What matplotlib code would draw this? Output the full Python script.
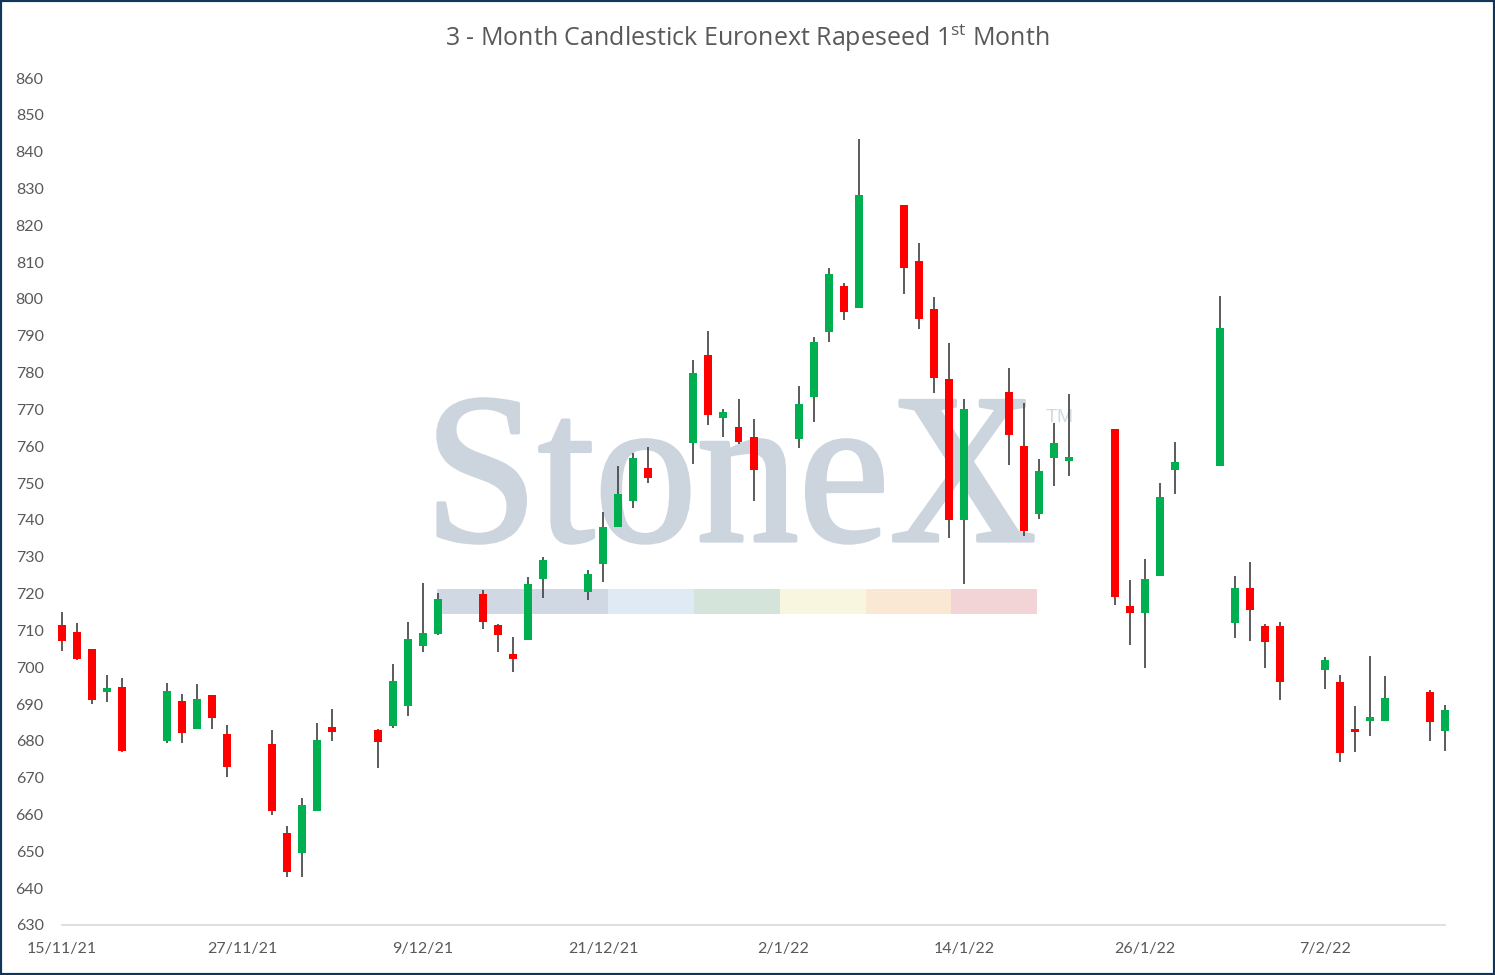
import numpy as np
import pandas as pd
import matplotlib
matplotlib.use("Agg")
import matplotlib.pyplot as plt
import matplotlib.dates as mdates
from matplotlib.patches import Rectangle, PathPatch
from matplotlib.textpath import TextPath
from matplotlib.font_manager import FontProperties
from matplotlib.transforms import Affine2D

plt.rcParams['font.family'] = ['Lato', 'DejaVu Sans']
plt.rcParams['mathtext.fontset'] = 'custom'
plt.rcParams['mathtext.rm'] = 'Open Sans'

# Datos (trading days 15/11/21 - 15/2/22)
dates = pd.bdate_range('2021-11-15', '2022-02-15')
opens = [711.5, 709.5, 705.0, 693.3, 694.5, 680.0, 690.8, 683.3, 692.4, 682.0,
         679.1, 655.0, 649.6, 661.0, 683.8, 683.0, 684.1, 689.5, 705.8, 709.1,
         719.9, 711.5, 703.6, 707.4, 724.0, 720.5, 728.1, 738.1, 745.1, 754.0,
         760.8, 784.9, 767.7, 765.1, 762.4, 761.9, 773.3, 790.9, 803.5, 797.6,
         825.5, 810.3, 797.3, 778.2, 740.0, 774.7, 760.2, 741.7, 756.9, 756.1,
         764.7, 716.6, 714.8, 724.8, 753.6, 754.7, 712.1, 721.5, 711.2, 711.2,
         699.3, 695.9, 683.2, 685.5, 685.5, 693.3, 682.7]
highs = [715.0, 712.0, 705.0, 698.0, 697.0, 695.7, 692.7, 695.4, 692.4, 684.3,
         683.0, 657.0, 664.5, 684.8, 688.6, 683.2, 700.9, 712.3, 723.0, 720.1,
         721.0, 711.8, 708.2, 724.6, 729.9, 726.4, 742.1, 754.6, 758.3, 759.7,
         783.4, 791.3, 770.1, 772.8, 767.4, 776.3, 789.6, 808.4, 804.2, 843.4,
         825.5, 815.2, 800.5, 788.0, 772.9, 781.2, 771.8, 756.5, 766.3, 774.2,
         764.7, 723.7, 729.4, 750.0, 761.1, 800.8, 724.8, 728.6, 711.7, 712.3,
         702.8, 697.9, 689.5, 703.0, 697.6, 693.8, 689.7]
lows = [704.5, 702.0, 690.0, 690.5, 677.0, 679.5, 679.5, 683.3, 683.3, 670.3,
        660.0, 643.0, 643.0, 661.0, 680.0, 672.5, 683.6, 686.8, 704.0, 708.8,
        710.4, 704.0, 698.8, 707.4, 718.9, 718.3, 723.2, 738.1, 743.3, 750.1,
        755.1, 765.9, 762.6, 760.7, 745.2, 759.6, 766.7, 788.4, 794.4, 797.6,
        801.4, 791.9, 774.5, 735.2, 722.7, 755.0, 735.7, 740.3, 749.3, 752.0,
        717.0, 706.1, 699.9, 724.8, 747.1, 754.7, 708.0, 707.2, 699.9, 691.0,
        694.2, 674.3, 677.0, 681.4, 685.5, 680.0, 677.3]
closes = [707.0, 702.3, 691.0, 694.3, 677.3, 693.5, 682.2, 691.4, 686.3, 673.0,
          661.0, 644.5, 662.5, 680.2, 682.5, 679.8, 696.2, 707.7, 709.3, 718.5,
          712.3, 708.8, 702.2, 722.6, 729.1, 725.3, 738.0, 747.0, 756.7, 751.4,
          779.8, 768.6, 769.2, 761.1, 753.6, 771.4, 788.2, 806.7, 796.5, 828.1,
          808.5, 794.6, 778.6, 740.0, 770.0, 763.1, 737.1, 753.3, 760.9, 757.0,
          719.2, 714.8, 723.9, 746.2, 755.7, 792.1, 721.5, 715.6, 706.9, 696.0,
          702.0, 676.8, 682.5, 686.5, 691.6, 685.2, 688.4]
tick_dates = pd.to_datetime(['2021-11-15', '2021-11-27', '2021-12-09', '2021-12-21',
                             '2022-01-02', '2022-01-14', '2022-01-26', '2022-02-07'])

W, H = 1495, 975
fig = plt.figure(figsize=(W / 100, H / 100), dpi=100)
ax = fig.add_axes([61.7 / W, (H - 925) / H, (1445.4 - 61.7) / W, (925 - 78) / H])
ax.patch.set_alpha(0)

x = mdates.date2num(dates.to_pydatetime())
o = np.array(opens)
c = np.array(closes)
colors = np.where(c >= o, '#00b050', '#ff0000')

ax.vlines(x, lows, highs, color='#404040', lw=1.2, zorder=2, clip_on=False)
ax.bar(x, np.abs(c - o), bottom=np.minimum(o, c), width=0.53, color=colors,
       zorder=3, clip_on=False)

ax.set_xlim(x[0], x[-1])
ax.set_ylim(630, 860)
ax.set_yticks(np.arange(630, 861, 10))
ax.set_xticks(mdates.date2num(tick_dates.to_pydatetime()))
ax.set_xticklabels([f"{d.day}/{d.month}/{d:%y}" for d in tick_dates])
ax.tick_params(length=0, labelsize=11.5, labelcolor='#595959')
ax.tick_params(axis='y', pad=13)
ax.tick_params(axis='x', pad=12)
for s in ['top', 'right', 'left']:
    ax.spines[s].set_visible(False)
ax.spines['bottom'].set_color('#d9d9d9')
ax.spines['bottom'].set_linewidth(1.2)

fig.text(747.5 / W, 1 - 38 / H,
         '3 - Month Candlestick Euronext Rapeseed 1$^{\\mathrm{st}}$ Month',
         ha='center', va='center', fontsize=18, color='#595959',
         family=['Open Sans', 'DejaVu Sans'])

# Marca de agua StoneX
tp = TextPath((0, 0), 'StoneX', size=1, prop=FontProperties(family='Liberation Serif'))
bb = tp.get_extents()
x0, x1, ytop, ybot = 438, 1033, 399, 543
tr = (Affine2D().translate(-bb.x0, -bb.y0)
      .scale((x1 - x0) / bb.width / W, (ybot - ytop) / bb.height / H)
      .translate(x0 / W, (H - ybot) / H) + fig.transFigure)
fig.add_artist(PathPatch(tp, transform=tr, facecolor='#ccd4de', edgecolor='#ccd4de',
                         lw=2.5, joinstyle='round', zorder=-1))
fig.text(1046 / W, 1 - 418 / H, 'TM', fontsize=14, color='#d3d9e1', va='center',
         ha='left', family='Liberation Sans', zorder=-1)

bar_edges = [437, 608, 694, 780, 866, 951, 1037]
bar_cols = ['#d0d9e3', '#dfeaf4', '#d5e4da', '#f8f6de', '#fbe8d4', '#f2d4d6']
for i, col in enumerate(bar_cols):
    fig.add_artist(Rectangle((bar_edges[i] / W, (H - 614) / H),
                             (bar_edges[i + 1] - bar_edges[i]) / W, 25 / H,
                             transform=fig.transFigure, facecolor=col,
                             edgecolor='none', zorder=-1))

fig.add_artist(Rectangle((0, 0), 1, 1, transform=fig.transFigure, fill=False,
                         edgecolor='#10365a', lw=3, zorder=10))

fig.savefig('out.png', dpi=100)
